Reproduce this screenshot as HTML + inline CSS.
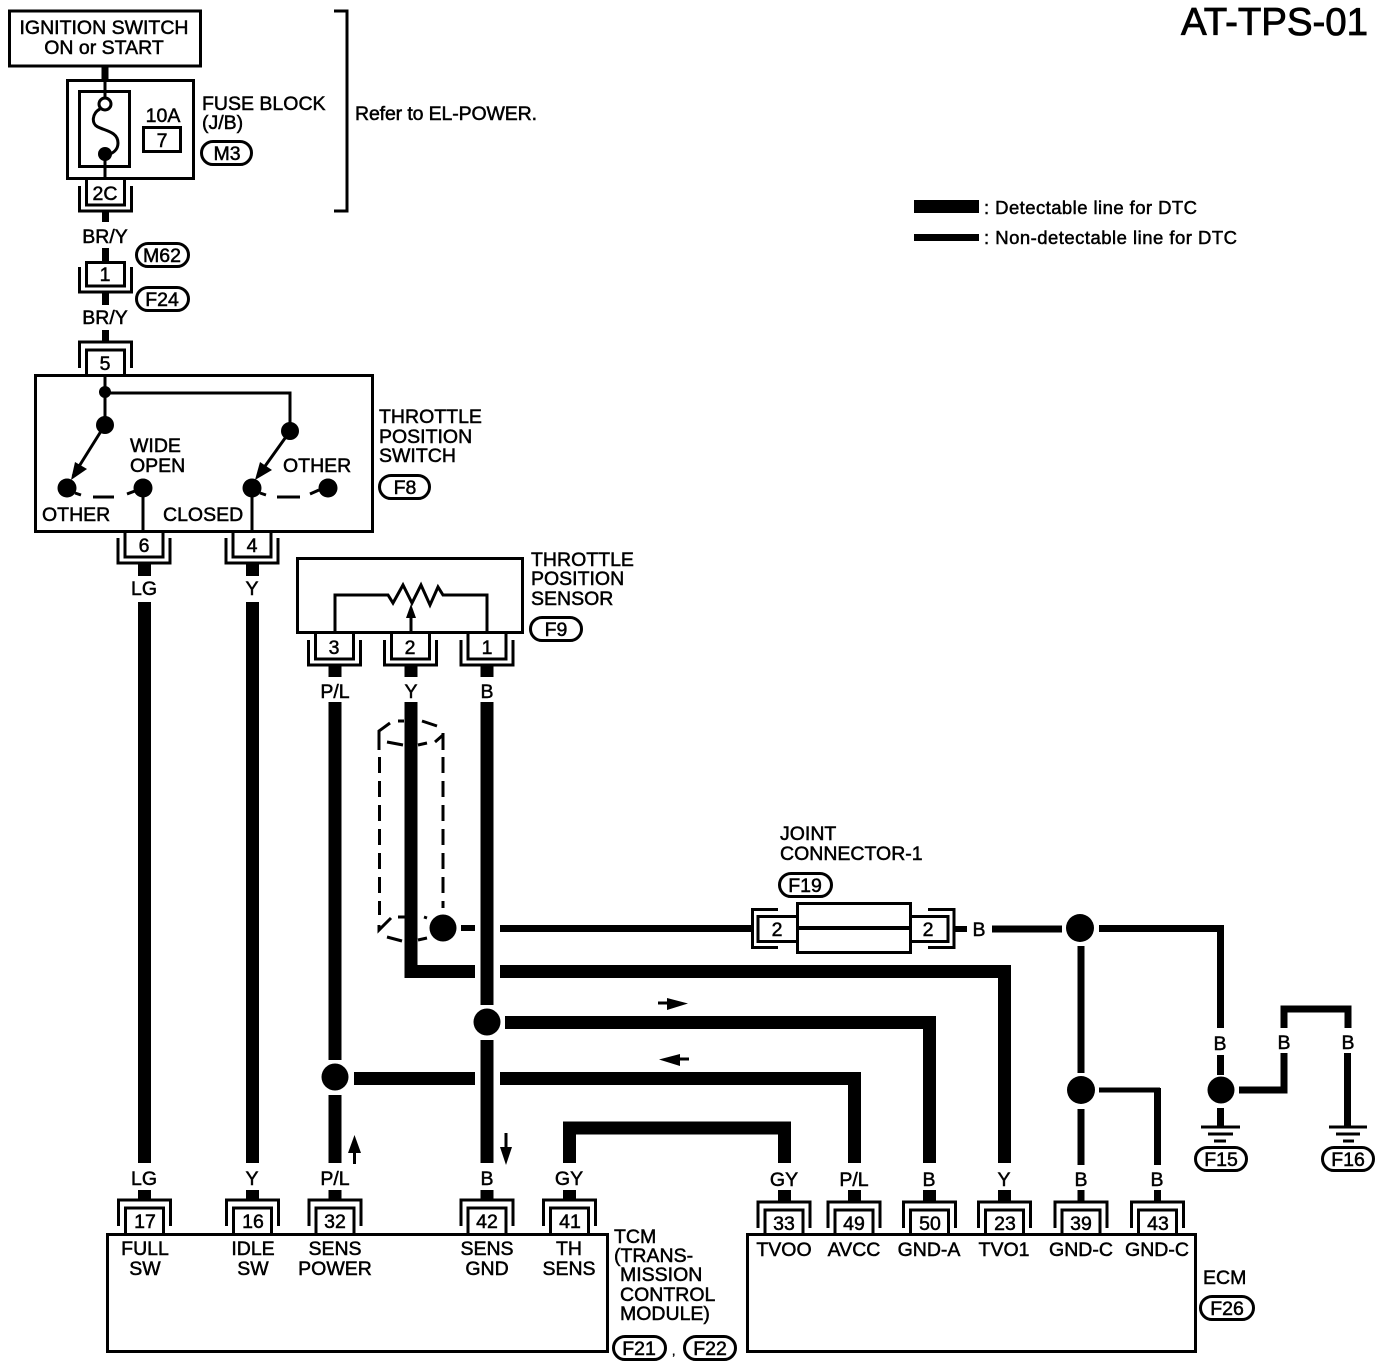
<!DOCTYPE html>
<html><head><meta charset="utf-8"><style>
html,body{margin:0;padding:0;background:#fff}
svg{display:block}
text{font-family:"Liberation Sans",sans-serif;font-size:19.5px;fill:#000;stroke:#000;stroke-width:.5}
.m{text-anchor:middle}
.b{fill:none;stroke:#000;stroke-width:3}
.w{fill:none;stroke:#000;stroke-width:13}
.n{fill:none;stroke:#000;stroke-width:7}
</style></head><body>
<svg width="1392" height="1368" viewBox="0 0 1392 1368" xmlns="http://www.w3.org/2000/svg">
<defs>
<g id="ct"><path class="b" d="M-26,6V31H26V6"/><path class="b" d="M-19,0V25H19V0"/></g>
<g id="cb"><path class="b" d="M-26,26V0H26V26"/><path class="b" d="M-19,33V8H19V33"/></g>
</defs>
<rect width="1392" height="1368" fill="#fff"/>

<!-- title + legend -->
<text x="1181" y="35" style="font-size:38.5px;stroke-width:.8" textLength="187">AT-TPS-01</text>
<rect x="914" y="200" width="65" height="13"/>
<rect x="914" y="234" width="65" height="7"/>
<text x="984" y="214" style="font-size:18.5px" textLength="213">: Detectable line for DTC</text>
<text x="984" y="244" style="font-size:18.5px" textLength="253">: Non-detectable line for DTC</text>

<!-- ignition + fuse -->
<rect class="b" x="9.5" y="11" width="191" height="55"/>
<text class="m" x="104" y="34">IGNITION SWITCH</text>
<text class="m" x="104" y="54">ON or START</text>
<path class="n" d="M105,66V80"/>
<rect class="b" x="67.5" y="80.5" width="126" height="98"/>
<rect class="b" x="79.5" y="91.5" width="50" height="75"/>
<path class="b" d="M105,80V98M105,154V179"/>
<circle cx="105" cy="104" r="6" fill="#fff" stroke="#000" stroke-width="3"/>
<path class="b" d="M100,109C92,113 91,124 98,127C106,131 118,132 118,143C118,150 113,153 108,155"/>
<circle cx="105" cy="154" r="7"/>
<text class="m" x="163" y="122">10A</text>
<rect class="b" x="143.5" y="127.5" width="37" height="24"/>
<text class="m" x="162" y="147">7</text>
<text x="202" y="110">FUSE BLOCK</text>
<text x="202" y="129">(J/B)</text>
<rect class="b" x="201.5" y="141.5" width="50" height="23" rx="11.5"/>
<text class="m" x="227" y="160">M3</text>
<path class="b" d="M334,11H347V211H334"/>
<text x="355" y="120" textLength="182">Refer to EL-POWER.</text>

<use href="#ct" x="105.5" y="180"/>
<text class="m" x="105" y="200">2C</text>
<path class="n" d="M105.5,211V222"/>
<text class="m" x="105" y="243">BR/Y</text>
<path class="n" d="M105.5,248V261"/>
<use href="#ct" x="105.5" y="261"/>
<path class="b" d="M85,262.5H126"/>
<text class="m" x="105" y="281">1</text>
<rect class="b" x="136.5" y="243.5" width="52" height="23" rx="11.5"/>
<text class="m" x="162" y="262">M62</text>
<rect class="b" x="136.5" y="287.5" width="52" height="23" rx="11.5"/>
<text class="m" x="162" y="306">F24</text>
<path class="n" d="M105.5,292V305"/>
<text class="m" x="105" y="324">BR/Y</text>
<path class="n" d="M105.5,330V343"/>
<use href="#cb" x="105.5" y="342"/>
<text class="m" x="105" y="370">5</text>

<!-- throttle position switch -->
<rect class="b" x="35.5" y="375.5" width="337" height="156"/>
<path class="b" d="M105,375V425M105,393H290V431"/>
<circle cx="105" cy="392" r="6"/>
<circle cx="105" cy="425" r="9"/>
<circle cx="290" cy="431" r="9"/>
<path class="b" d="M103,428L73,476M288,434L258,476"/>
<polygon points="71,480 75,462 87,469"/>
<polygon points="255,480 260,462 272,470"/>
<circle cx="67" cy="488" r="9.5"/>
<circle cx="143" cy="488" r="9.5"/>
<circle cx="252" cy="488" r="9.5"/>
<circle cx="328" cy="488" r="9.5"/>
<path class="b" d="M75,493L81,495M93,497H114M127,494L135,491M260,493L266,495M277,497H300M310,494L319,490"/>
<path class="b" d="M143,488V532M252,488V532"/>
<text x="130" y="452">WIDE</text>
<text x="130" y="472">OPEN</text>
<text x="283" y="472">OTHER</text>
<text x="42" y="521">OTHER</text>
<text x="163" y="521">CLOSED</text>
<text x="379" y="423">THROTTLE</text>
<text x="379" y="443">POSITION</text>
<text x="379" y="462">SWITCH</text>
<rect class="b" x="379.5" y="475.5" width="50" height="23" rx="11.5"/>
<text class="m" x="405" y="494">F8</text>
<use href="#ct" x="144" y="532"/>
<text class="m" x="144" y="552">6</text>
<use href="#ct" x="252" y="532"/>
<text class="m" x="252" y="552">4</text>
<path class="w" d="M144.5,563V576M252.5,563V576"/>
<text class="m" x="144" y="595">LG</text>
<text class="m" x="252" y="595">Y</text>
<path class="w" d="M144.5,602V1163M252.5,602V1163"/>

<!-- sensor -->
<rect class="b" x="297.5" y="558.5" width="225" height="74"/>
<path class="b" d="M335,633V595H388L393,603L403,585L412,603L421,585L430,605L438,587L443,595H487V633M411,633V612"/>
<polygon points="411,604 416,618 406,618"/>
<text x="531" y="566">THROTTLE</text>
<text x="531" y="585">POSITION</text>
<text x="531" y="605">SENSOR</text>
<rect class="b" x="530.5" y="617.5" width="51" height="23" rx="11.5"/>
<text class="m" x="556" y="636">F9</text>
<use href="#ct" x="334.5" y="634"/><text class="m" x="334" y="654">3</text>
<use href="#ct" x="410.5" y="634"/><text class="m" x="410" y="654">2</text>
<use href="#ct" x="487" y="634"/><text class="m" x="487" y="654">1</text>
<path class="w" d="M335,665V677M411,665V677M487,665V677"/>
<text class="m" x="335" y="698">P/L</text>
<text class="m" x="411" y="698">Y</text>
<text class="m" x="487" y="698">B</text>

<!-- shield -->
<path class="b" d="M379,750V731L390,723M398,721H404M422,721L437,726M387,742L403,745M418,745L427,743M435,742L443,735M443,733V750"/>
<path class="b" stroke-dasharray="16 8" d="M379.5,757V915"/>
<path class="b" stroke-dasharray="16 8" d="M443,757V908"/>
<path class="b" d="M379,925V930L391,918M398,917H405M424,917L427,918M387,937L402,941M418,940L427,938"/>

<!-- main wires -->
<path class="w" d="M335,702V1060M335,1095V1163"/>
<path class="w" d="M411,702V971.5H475"/>
<path class="w" d="M500,971.5H1004.5V1163"/>
<path class="w" d="M487,702V1005M487,1040V1163"/>
<circle cx="443" cy="928" r="13.5"/>
<path d="M461,928H475" stroke="#000" stroke-width="6"/>
<path class="n" d="M500,928.5H752"/>
<circle cx="487" cy="1022" r="13.5"/>
<path class="w" d="M505,1022.5H929.5V1163"/>
<circle cx="335" cy="1077" r="13.5"/>
<path class="w" d="M354,1078.5H475M500,1078.5H854.5V1163"/>
<path class="w" d="M569.5,1163V1128H784.5V1163"/>

<!-- direction arrows -->
<path class="b" d="M658,1003H672M689,1059H675M354.5,1153V1164M506,1133V1148"/>
<polygon points="688,1003.5 667,998 667,1010"/>
<polygon points="659,1059.5 680,1054 680,1066"/>
<polygon points="354.5,1135 361,1153 348,1153"/>
<polygon points="506,1165 500,1147 512,1147"/>

<!-- joint connector -->
<text x="780" y="840">JOINT</text>
<text x="780" y="860">CONNECTOR-1</text>
<rect class="b" x="779.5" y="873.5" width="52" height="23" rx="11.5"/>
<text class="m" x="805" y="892">F19</text>
<rect class="b" x="797.5" y="903.5" width="113" height="49"/>
<path d="M797,928H911" stroke="#000" stroke-width="4"/>
<path class="b" d="M797,916.5H758V941.5H797M911,916.5H948V941.5H911"/>
<path class="b" d="M778,909.5H752.5V947.5H778M928,909.5H954V947.5H928"/>
<text class="m" x="777" y="936">2</text>
<text class="m" x="928" y="936">2</text>
<path d="M954,929H967" stroke="#000" stroke-width="6"/>
<text class="m" x="979" y="936">B</text>
<path class="n" d="M992,929H1062"/>
<circle cx="1080" cy="928" r="14"/>
<path class="n" d="M1099,928.5H1220.5V1028M1081,946V1073M1081,1109V1165"/>
<circle cx="1081" cy="1090" r="14"/>
<path d="M1099,1090H1160" stroke="#000" stroke-width="5"/>
<path class="n" d="M1157.5,1088V1165"/>
<text class="m" x="1220" y="1050">B</text>
<path class="n" d="M1220.5,1055V1075M1220.5,1108V1127"/>
<circle cx="1221" cy="1090" r="13.5"/>
<path class="n" d="M1239,1090H1284V1053"/>
<path class="n" d="M1284,1028V1009H1348V1028"/>
<text class="m" x="1284" y="1049">B</text>
<text class="m" x="1348" y="1049">B</text>
<path class="n" d="M1347.5,1053V1127"/>
<path class="b" d="M1201,1127H1240M1208,1134H1233M1214,1141H1226"/>
<path class="b" d="M1329,1127H1367M1336,1134H1360M1343,1141H1354"/>
<rect class="b" x="1195.5" y="1147.5" width="51" height="23" rx="11.5"/>
<text class="m" x="1221" y="1166">F15</text>
<rect class="b" x="1322.5" y="1147.5" width="51" height="23" rx="11.5"/>
<text class="m" x="1348" y="1166">F16</text>

<!-- bottom wire labels -->
<text class="m" x="144" y="1185">LG</text>
<text class="m" x="252" y="1185">Y</text>
<text class="m" x="335" y="1185">P/L</text>
<text class="m" x="487" y="1185">B</text>
<text class="m" x="569" y="1185">GY</text>
<text class="m" x="784" y="1186">GY</text>
<text class="m" x="854" y="1186">P/L</text>
<text class="m" x="929" y="1186">B</text>
<text class="m" x="1004" y="1186">Y</text>
<text class="m" x="1081" y="1186">B</text>
<text class="m" x="1157" y="1186">B</text>
<path class="w" d="M144.5,1190V1201M252.5,1190V1201M335,1190V1201M487,1190V1201M569.5,1190V1201M784.5,1190V1203M854.5,1190V1203M929.5,1190V1203M1004.5,1190V1203"/>
<path class="n" d="M1081,1190V1203M1157.5,1190V1203"/>

<!-- bottom connectors -->
<use href="#cb" x="144.5" y="1200"/><text class="m" x="145" y="1228">17</text>
<use href="#cb" x="252.5" y="1200"/><text class="m" x="253" y="1228">16</text>
<use href="#cb" x="335" y="1200"/><text class="m" x="335" y="1228">32</text>
<use href="#cb" x="487" y="1200"/><text class="m" x="487" y="1228">42</text>
<use href="#cb" x="569.5" y="1200"/><text class="m" x="570" y="1228">41</text>
<use href="#cb" x="784" y="1202"/><text class="m" x="784" y="1230">33</text>
<use href="#cb" x="854" y="1202"/><text class="m" x="854" y="1230">49</text>
<use href="#cb" x="929.5" y="1202"/><text class="m" x="930" y="1230">50</text>
<use href="#cb" x="1004.5" y="1202"/><text class="m" x="1005" y="1230">23</text>
<use href="#cb" x="1081" y="1202"/><text class="m" x="1081" y="1230">39</text>
<use href="#cb" x="1157.5" y="1202"/><text class="m" x="1158" y="1230">43</text>

<!-- TCM -->
<rect class="b" x="107.5" y="1234.5" width="500" height="117"/>
<text class="m" x="145" y="1255">FULL</text><text class="m" x="145" y="1275">SW</text>
<text class="m" x="253" y="1255">IDLE</text><text class="m" x="253" y="1275">SW</text>
<text class="m" x="335" y="1255">SENS</text><text class="m" x="335" y="1275">POWER</text>
<text class="m" x="487" y="1255">SENS</text><text class="m" x="487" y="1275">GND</text>
<text class="m" x="569" y="1255">TH</text><text class="m" x="569" y="1275">SENS</text>
<text x="614" y="1243">TCM</text>
<text x="614" y="1262">(TRANS-</text>
<text x="620" y="1281">MISSION</text>
<text x="620" y="1301">CONTROL</text>
<text x="620" y="1320">MODULE)</text>
<rect class="b" x="613.5" y="1336.5" width="52" height="23" rx="11.5"/>
<text class="m" x="639" y="1355">F21</text>
<text x="672" y="1355" style="font-size:12px">,</text>
<rect class="b" x="684.5" y="1336.5" width="51" height="23" rx="11.5"/>
<text class="m" x="710" y="1355">F22</text>

<!-- ECM -->
<rect class="b" x="747.5" y="1234.5" width="448" height="117"/>
<text class="m" x="784" y="1256">TVOO</text>
<text class="m" x="854" y="1256">AVCC</text>
<text class="m" x="929" y="1256">GND-A</text>
<text class="m" x="1004" y="1256">TVO1</text>
<text class="m" x="1081" y="1256">GND-C</text>
<text class="m" x="1157" y="1256">GND-C</text>
<text x="1203" y="1284">ECM</text>
<rect class="b" x="1200.5" y="1296.5" width="53" height="23" rx="11.5"/>
<text class="m" x="1227" y="1315">F26</text>
</svg>
</body></html>
